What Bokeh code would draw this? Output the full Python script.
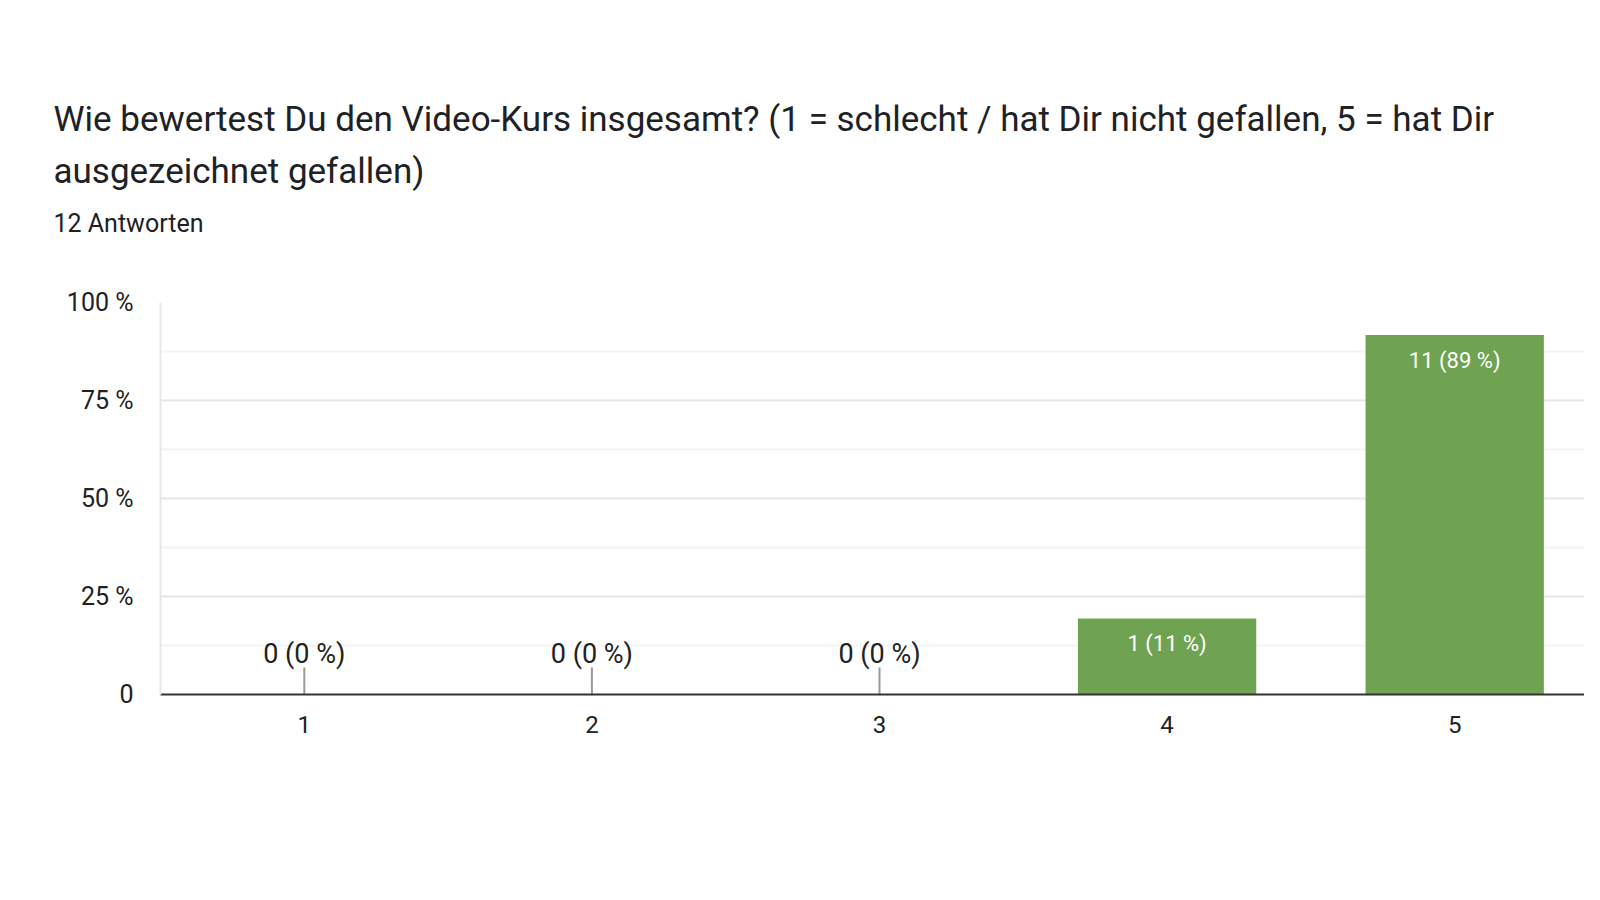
from bokeh.plotting import figure
from bokeh.models import Range1d, FixedTicker, Title
from bokeh.core.properties import value
from bokeh.embed import file_html
from bokeh.resources import INLINE

# ---- data ----
categories = [1, 2, 3, 4, 5]
bar_values = [0, 0, 0, 19.4, 91.7]          # bar heights as drawn (%)
bar_labels = ["0 (0 %)", "0 (0 %)", "0 (0 %)", "1 (11 %)", "11 (89 %)"]
y_ticks = [0, 25, 50, 75, 100]
y_tick_labels = ["0", "25 %", "50 %", "75 %", "100 %"]
y_minor = [12.5, 37.5, 62.5, 87.5]
x_tick_labels = ["1", "2", "3", "4", "5"]
title_lines = [
    "Wie bewertest Du den Video-Kurs insgesamt? (1 = schlecht / hat Dir nicht gefallen, 5 = hat Dir",
    "ausgezeichnet gefallen)",
]
subtitle = "12 Antworten"

# ---- layout ----
W, H = 1584, 884
LEFT, RIGHT, TOP, BOTTOM = 160, 0, 302, 190
FRAME_W = W - LEFT - RIGHT
FRAME_H = H - TOP - BOTTOM
CAT_PX = 287.6
FONT = "Roboto"
GREEN = "#6fa352"
TITLE_X = -107

p = figure(width=W, height=H, output_backend="svg", toolbar_location=None,
           min_border_left=LEFT, min_border_right=RIGHT,
           min_border_top=TOP, min_border_bottom=BOTTOM,
           x_range=Range1d(0.5, 0.5 + FRAME_W / CAT_PX),
           y_range=Range1d(0, 100))
p.outline_line_color = None
p.background_fill_color = "white"
p.border_fill_color = "white"
p.title.visible = False

# titles, innermost first (first one is only a gap above the plot area)
p.add_layout(Title(text=" ", standoff=52, text_font=FONT, text_font_size="1px"), "above")
p.add_layout(Title(text=subtitle, align="left", offset=TITLE_X, standoff=20,
                   text_font=FONT, text_font_size="25px", text_font_style="normal",
                   text_color="#202124"), "above")
p.add_layout(Title(text=title_lines[1], align="left", offset=TITLE_X, standoff=10,
                   text_font=FONT, text_font_size="35px", text_font_style="normal",
                   text_color="#202124"), "above")
p.add_layout(Title(text=title_lines[0], align="left", offset=TITLE_X, standoff=8,
                   text_font=FONT, text_font_size="35px", text_font_style="normal",
                   text_color="#202124"), "above")

# grid
p.xgrid.grid_line_color = None
p.ygrid.ticker = FixedTicker(ticks=y_ticks[1:], minor_ticks=y_minor)
p.ygrid.grid_line_color = "#e6e6e6"
p.ygrid.grid_line_width = 2
p.ygrid.minor_grid_line_color = "#f4f4f4"
p.ygrid.minor_grid_line_width = 2

# y axis
p.yaxis.ticker = FixedTicker(ticks=y_ticks)
p.yaxis.major_label_overrides = {t: l for t, l in zip(y_ticks, y_tick_labels)}
p.yaxis.axis_line_color = "#e8e8e8"
p.yaxis.axis_line_width = 2
p.yaxis.major_tick_line_color = None
p.yaxis.minor_tick_line_color = None
p.yaxis.major_tick_out = 0
p.yaxis.major_tick_in = 0
p.yaxis.major_label_standoff = 27
p.yaxis.major_label_text_font = FONT
p.yaxis.major_label_text_font_size = "25px"
p.yaxis.major_label_text_color = "#222222"

# x axis
p.xaxis.ticker = FixedTicker(ticks=categories)
p.xaxis.major_label_overrides = {c: l for c, l in zip(categories, x_tick_labels)}
p.xaxis.axis_line_color = "#333333"
p.xaxis.axis_line_width = 2
p.xaxis.major_tick_line_color = None
p.xaxis.minor_tick_line_color = None
p.xaxis.major_tick_out = 0
p.xaxis.major_tick_in = 0
p.xaxis.major_label_standoff = 21
p.xaxis.major_label_text_font = FONT
p.xaxis.major_label_text_font_size = "24px"
p.xaxis.major_label_text_color = "#222222"

# bars
p.vbar(x=categories, top=bar_values, width=0.62, fill_color=GREEN, line_color=None)

# stems + labels for empty categories
px_per_unit = FRAME_H / 100.0
zero_x = [c for c, v in zip(categories, bar_values) if v == 0]
zero_lbl = [l for l, v in zip(bar_labels, bar_values) if v == 0]
stem_top = 27 / px_per_unit
p.segment(x0=zero_x, y0=[0] * len(zero_x), x1=zero_x, y1=[stem_top] * len(zero_x),
          line_color="#999999", line_width=2)
p.text(x=zero_x, y=[0] * len(zero_x), text=zero_lbl, y_offset=-41,
       text_align="center", text_baseline="alphabetic",
       text_font=value(FONT), text_font_size="27px", text_color="#222222")

# labels inside bars
in_x = [c for c, v in zip(categories, bar_values) if v > 0]
in_y = [v for v in bar_values if v > 0]
in_lbl = [l for l, v in zip(bar_labels, bar_values) if v > 0]
p.text(x=in_x, y=in_y, text=in_lbl, y_offset=25,
       text_align="center", text_baseline="alphabetic",
       text_font=value(FONT), text_font_size="22px", text_color="#ffffff")

open("out.html", "w").write(file_html(p, INLINE))
